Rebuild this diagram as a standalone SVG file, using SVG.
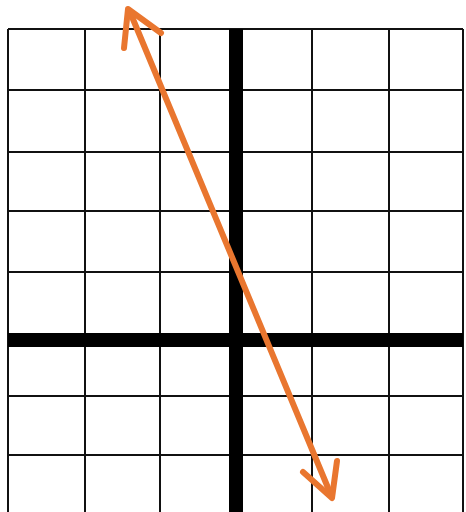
<svg xmlns="http://www.w3.org/2000/svg" width="466" height="512" viewBox="0 0 466 512">
<style>
.g{stroke:#111;stroke-width:2;fill:none}
.ax{stroke:#000;stroke-width:14;fill:none}
.ar{stroke:#E9762F;stroke-width:6;fill:none;stroke-linecap:round;stroke-linejoin:round}
</style>
<rect width="466" height="512" fill="#fff"/>
<g id="grid">
<path class="g" d="M8 29V512M85 29V512M160 29V512M312 29V512M389 29V512M463 29V512"/>
<path class="g" d="M8 29H463M8 90H463M8 152H463M8 211H463M8 272H463M8 396H463M8 455H463"/>
</g>
<g id="axes">
<line class="ax" x1="236" y1="29" x2="236" y2="512"/>
<line class="ax" x1="8" y1="340" x2="463" y2="340"/>
</g>
<g id="connectors">
<line class="ar" x1="130" y1="12" x2="331" y2="495"/>
<polyline class="ar" points="124,48 128,9 161,33"/>
<polyline class="ar" points="303,472 332,498 337,461"/>
</g>
</svg>
